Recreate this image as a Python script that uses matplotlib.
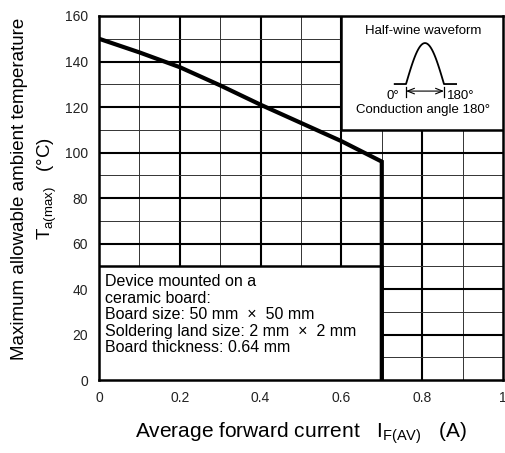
import numpy as np
import matplotlib.pyplot as plt
from matplotlib.patches import Rectangle

plt.rcParams['font.family'] = ['Liberation Sans', 'DejaVu Sans']
plt.rcParams['mathtext.default'] = 'regular'

# derating curve
current = [0.0, 0.1, 0.2, 0.3, 0.4, 0.5, 0.6, 0.7, 0.7]
temp = [150, 144, 137.5, 129.5, 121, 113, 105, 96, 0]

xticks = [0, 0.2, 0.4, 0.6, 0.8, 1]
xtick_labels = ['0', '0.2', '0.4', '0.6', '0.8', '1']
yticks = [0, 20, 40, 60, 80, 100, 120, 140, 160]

note_lines = ['Device mounted on a', 'ceramic board:',
              'Board size: 50 mm  \u00d7  50 mm',
              'Soldering land size: 2 mm  \u00d7  2 mm',
              'Board thickness: 0.64 mm']

fig = plt.figure(figsize=(5.06, 4.53), dpi=100)
ax = fig.add_axes([0.1957, 0.161, 0.7983, 0.8037])
ax.set_xlim(0, 1)
ax.set_ylim(0, 160)

# grid: thick every 0.2 / 20, thin in between
for x in np.arange(0.1, 1.0, 0.1):
    major = abs(round(x * 10) % 2) == 0
    ax.axvline(x, color='black' if major else '#333333', lw=1.5 if major else 0.7, zorder=1)
for y in range(10, 160, 10):
    major = y % 20 == 0
    ax.axhline(y, color='black' if major else '#333333', lw=1.5 if major else 0.7, zorder=1)

for s in ax.spines.values():
    s.set_linewidth(1.8)

ax.set_xticks(xticks)
ax.set_xticklabels(xtick_labels)
ax.set_yticks(yticks)
ax.tick_params(length=0, labelsize=10, pad=8, labelcolor='#222222')

ax.set_xlabel('Average forward current   I$_{F(AV)}$   (A)', fontsize=15, labelpad=11)
ax.set_ylabel('Maximum allowable ambient temperature\nT$_{a(max)}$   (\u00b0C)',
              fontsize=13.5, linespacing=1.5)
ax.yaxis.set_label_coords(-0.1, 0.525)

# boxes over the grid
ax.add_patch(Rectangle((0, 0), 0.7, 50, facecolor='white', edgecolor='black',
                       lw=1.8, zorder=3))
ax.add_patch(Rectangle((0.6, 110), 0.4, 50, facecolor='white', edgecolor='black',
                       lw=1.8, zorder=3))

ax.text(0.015, 46.5, '\n'.join(note_lines), fontsize=11.5, va='top', ha='left',
        linespacing=1.12, zorder=4)

# waveform sketch
t = np.linspace(0, np.pi, 60)
wx = np.concatenate([[0.732], 0.760 + (0.854 - 0.760) * t / np.pi, [0.884]])
wy = np.concatenate([[130.1], 130.1 + 18 * np.sin(t), [130.1]])
ax.plot(wx, wy, color='black', lw=1.3, zorder=4)
ax.annotate('', xy=(0.760, 127), xytext=(0.854, 127),
            arrowprops=dict(arrowstyle='<->,head_length=0.5,head_width=0.2', lw=0.8,
                            shrinkA=0, shrinkB=0), zorder=4)
ax.plot([0.760, 0.760], [124.6, 128.8], color='black', lw=0.9, zorder=4)
ax.plot([0.854, 0.854], [124.6, 128.8], color='black', lw=0.9, zorder=4)
ax.text(0.742, 124.8, '0\u00b0', fontsize=9.5, ha='right', va='center', zorder=4)
ax.text(0.862, 124.8, '180\u00b0', fontsize=9.5, ha='left', va='center', zorder=4)
ax.text(0.802, 153.5, 'Half-wine waveform', fontsize=9.5, ha='center', va='center', zorder=4)
ax.text(0.802, 118.5, 'Conduction angle 180\u00b0', fontsize=9.5, ha='center', va='center', zorder=4)

ax.plot(current, temp, color='black', lw=3, solid_joinstyle='miter', zorder=5)

fig.savefig('out.png', dpi=100)
